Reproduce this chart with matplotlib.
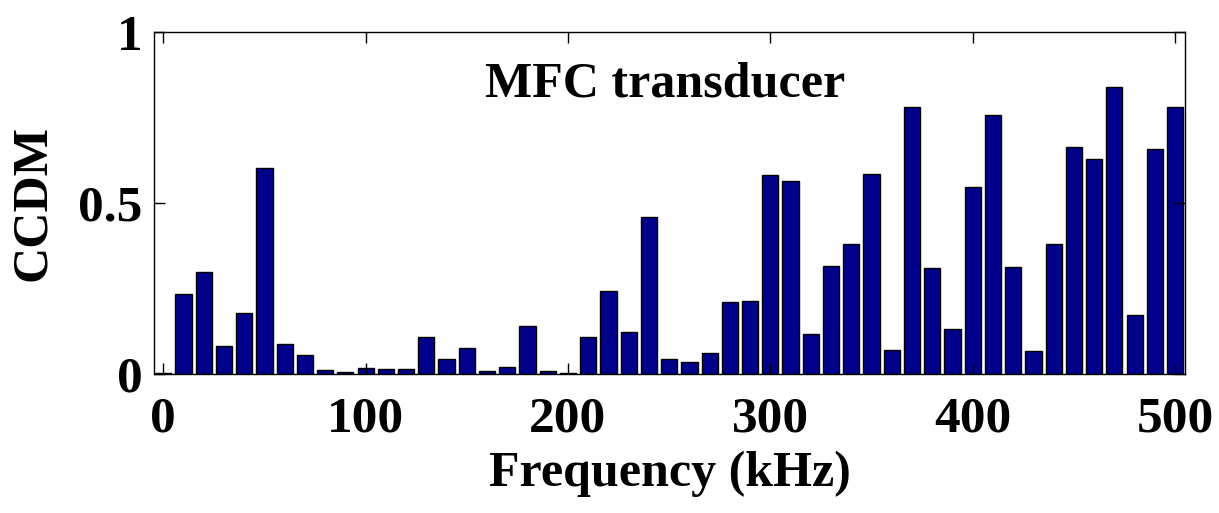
import matplotlib.pyplot as plt
import numpy as np

freq = np.arange(0, 501, 10)
ccdm = [0.005, 0.235, 0.300, 0.083, 0.178, 0.604, 0.090, 0.056, 0.012, 0.008,
        0.019, 0.016, 0.015, 0.110, 0.046, 0.078, 0.011, 0.022, 0.142, 0.010,
        0.003, 0.110, 0.244, 0.123, 0.460, 0.044, 0.036, 0.061, 0.211, 0.214,
        0.583, 0.565, 0.118, 0.317, 0.380, 0.587, 0.071, 0.783, 0.310, 0.132,
        0.547, 0.758, 0.314, 0.068, 0.380, 0.664, 0.629, 0.841, 0.174, 0.660,
        0.783]

plt.rcParams['font.family'] = 'Liberation Serif'
plt.rcParams['font.weight'] = 'bold'

fig = plt.figure(figsize=(12.19, 5.13), dpi=100)
ax = fig.add_axes([0.1263, 0.2704, 0.8458, 0.6666])
ax.bar(freq, ccdm, width=8, color='#00008B', edgecolor='black', linewidth=1.0)
ax.set_xlim(-4.6, 504.9)
ax.set_ylim(0, 1)
ax.set_xticks([0, 100, 200, 300, 400, 500])
ax.set_yticks([0, 0.5, 1])
ax.set_yticklabels(['0', '0.5', '1'])
ax.tick_params(direction='in', top=True, right=True, length=8, width=1,
               labelsize=37)
ax.tick_params(axis='x', pad=16)
ax.tick_params(axis='y', pad=8)
for s in ax.spines.values():
    s.set_linewidth(1)
ax.set_xlabel('Frequency (kHz)', fontsize=36, fontweight='bold', labelpad=6)
ax.set_ylabel('CCDM', fontsize=36, fontweight='bold', labelpad=16)
ax.text(248, 0.848, 'MFC transducer', fontsize=36, fontweight='bold',
        ha='center', va='center')

fig.savefig('out.png', dpi=100)
